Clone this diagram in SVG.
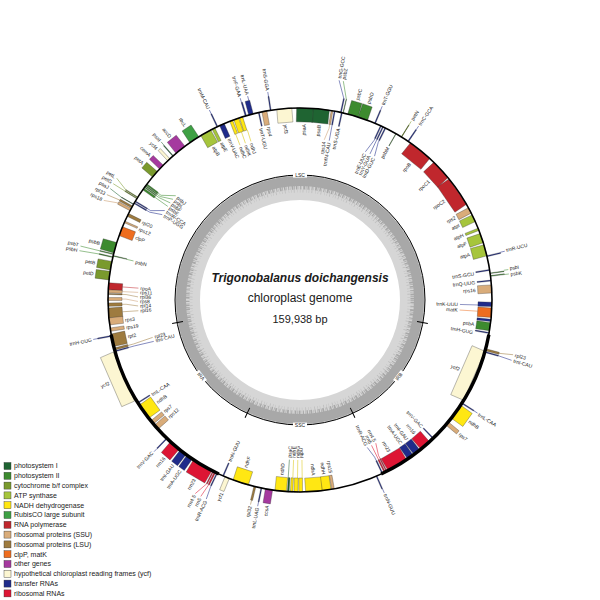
<svg xmlns="http://www.w3.org/2000/svg" width="600" height="600" viewBox="0 0 600 600">
<style>
text{font-family:"Liberation Sans",Arial,Helvetica,sans-serif;fill:#1a1a1a}
.g text{font-size:5px}
.g rect{stroke:#2a2a2a;stroke-width:.3}
#leaders path{fill:none;stroke-width:.5}
.ro,.li{text-anchor:start}
.ri,.lo{text-anchor:end}
.ps1{fill:#1f6432;stroke:#1f6432}
.ps2{fill:#3d8b2f;stroke:#3d8b2f}
.cyt{fill:#7a9a2d;stroke:#7a9a2d}
.atp{fill:#a6c53c;stroke:#a6c53c}
.ndh{fill:#ffe713;stroke:#d8c200}
.rbc{fill:#3ea044;stroke:#3ea044}
.rpo{fill:#c0272d;stroke:#c0272d}
.rps{fill:#d9ac7a;stroke:#c8996a}
.rpl{fill:#9e7b3f;stroke:#9e7b3f}
.clp{fill:#ee6d1f;stroke:#ee6d1f}
.oth{fill:#a5399f;stroke:#a5399f}
.ycf{fill:#fcf6d2;stroke:#8a8460}
.trna{fill:#1f2b8a;stroke:#1f2b8a}
.rrna{fill:#dd1534;stroke:#dd1534}
.lg rect{stroke:#333;stroke-width:.4}
.lg text{font-size:7px}
.reg text{font-size:5px;text-anchor:middle}
</style>

<g id="gc">
<circle cx="300" cy="300" r="112.5" fill="none" stroke="#d6d6d6" stroke-width="25"/>
<circle cx="300" cy="300" r="119" fill="none" stroke="#a8a8a8" stroke-width="10"/>
<circle cx="300" cy="300" r="112.5" fill="none" stroke="#a8a8a8" stroke-width="4" stroke-dasharray="0.7 1.1 1.4 0.6 0.5 1.6 1 0.8 0.4 1.3 1.8 0.7"/>
<circle cx="300" cy="300" r="109" fill="none" stroke="#bdbdbd" stroke-width="3" stroke-dasharray="0.5 2.3 0.8 3.1 0.4 1.9"/>
<circle cx="300" cy="300" r="125" fill="none" stroke="#000" stroke-width="1"/>
</g>
<g id="ticks" stroke="#000" stroke-width="1">
<line transform="rotate(100.4 300 300)" x1="300" y1="170" x2="300" y2="181"/>
<line transform="rotate(155 300 300)" x1="300" y1="170" x2="300" y2="181"/>
<line transform="rotate(205 300 300)" x1="300" y1="170" x2="300" y2="181"/>
<line transform="rotate(259.6 300 300)" x1="300" y1="170" x2="300" y2="181"/>
</g>
<g id="regions" class="reg">
<rect x="293" y="172.6" width="14" height="5" fill="#fff"/><text x="300" y="176.8">LSC</text>
<g transform="rotate(-52.3 300 300)"><rect x="293.5" y="422.6" width="13" height="5" fill="#fff"/><text x="300" y="426.8">IRB</text></g>
<rect x="293" y="422.6" width="14" height="5" fill="#fff"/><text x="300" y="426.8">SSC</text>
<g transform="rotate(52.3 300 300)"><rect x="293.5" y="422.6" width="13" height="5" fill="#fff"/><text x="300" y="426.8">IRA</text></g>
</g>

<g id="title" text-anchor="middle">
<text x="300" y="282" font-size="12" font-weight="bold" font-style="italic">Trigonobalanus doichangensis</text>
<text x="300" y="302" font-size="12">chloroplast genome</text>
<text x="300" y="322.5" font-size="11">159,938 bp</text>
</g>

<g id="leaders">
<path class="trna" transform="rotate(91.6 300 300)" d="M300,122V140"/>
<path class="clp" transform="rotate(93.6 300 300)" d="M300,122V140"/>
<path class="ps2" transform="rotate(82.9 300 300)" d="M300,94V89.5"/>
<path class="ps2" transform="rotate(81.7 300 300)" d="M300,94V89.5"/>
<path class="trna" transform="rotate(76.6 300 300)" d="M300,94V89.5"/>
<path class="trna" transform="rotate(34.3 300 300)" d="M300,94V89.5"/>
<path class="cyt" transform="rotate(31.9 300 300)" d="M300,108V89.5"/>
<path class="trna" transform="rotate(26.4 300 300)" d="M300,122V124L302.8,138"/>
<path class="trna" transform="rotate(25.6 300 300)" d="M300,122V138"/>
<path class="trna" transform="rotate(24.9 300 300)" d="M300,122V124L296.9,138"/>
<path class="trna" transform="rotate(23 300 300)" d="M300,94V89.5"/>
<path class="ps2" transform="rotate(13 300 300)" d="M300,94L293,77"/>
<path class="trna" transform="rotate(12.3 300 300)" d="M300,94L291.4,77"/>
<path class="trna" transform="rotate(10.4 300 300)" d="M300,122V138"/>
<path class="rps" transform="rotate(9.6 300 300)" d="M300,122V126L297.2,138"/>
<path class="trna" transform="rotate(351.2 300 300)" d="M300,94V89.5"/>
<path class="trna" transform="rotate(345.6 300 300)" d="M300,94V89.5"/>
<path class="trna" transform="rotate(343.5 300 300)" d="M300,94V89.5"/>
<path class="ndh" transform="rotate(342.8 300 300)" d="M300,122V134"/>
<path class="ndh" transform="rotate(340.8 300 300)" d="M300,122V134"/>
<path class="ndh" transform="rotate(338.8 300 300)" d="M300,122V134"/>
<path class="trna" transform="rotate(334.5 300 300)" d="M300,94V89.5"/>
<path class="ps1" transform="rotate(318.7 300 300)" d="M300,94V89.5"/>
<path class="ps2" transform="rotate(307 300 300)" d="M300,122V126L308.5,138"/>
<path class="ps2" transform="rotate(306.5 300 300)" d="M300,122V126L305.4,138"/>
<path class="ps2" transform="rotate(306 300 300)" d="M300,122V126L302.3,138"/>
<path class="ps2" transform="rotate(305.3 300 300)" d="M300,122V138"/>
<path class="cyt" transform="rotate(302.3 300 300)" d="M300,94L305,80"/>
<path class="cyt" transform="rotate(301.9 300 300)" d="M300,94V80"/>
<path class="trna" transform="rotate(300.9 300 300)" d="M300,122V126L307.3,138"/>
<path class="trna" transform="rotate(300.3 300 300)" d="M300,122V126L304.2,138"/>
<path class="ps1" transform="rotate(299.9 300 300)" d="M300,94L302,80"/>
<path class="rpl" transform="rotate(299 300 300)" d="M300,94L298.5,80"/>
<path class="rps" transform="rotate(298.1 300 300)" d="M300,94L295.4,80"/>
<path class="ps2" transform="rotate(283.8 300 300)" d="M300,94V74"/>
<path class="ps2" transform="rotate(283.2 300 300)" d="M300,122V129"/>
<path class="ps2" transform="rotate(282.9 300 300)" d="M300,94L298.8,74"/>
<path class="rpo" transform="rotate(274.2 300 300)" d="M300,122V138"/>
<path class="rps" transform="rotate(272.7 300 300)" d="M300,122V138"/>
<path class="rpl" transform="rotate(271.8 300 300)" d="M300,122V126L298,138"/>
<path class="rps" transform="rotate(270.3 300 300)" d="M300,122V126L297.7,138"/>
<path class="rpl" transform="rotate(268.6 300 300)" d="M300,122V126L298,138"/>
<path class="rpl" transform="rotate(266.2 300 300)" d="M300,122V138"/>
<path class="trna" transform="rotate(259.2 300 300)" d="M300,94V89.5"/>
<path class="rpl" transform="rotate(255.2 300 300)" d="M300,122V128L301.5,148"/>
<path class="trna" transform="rotate(254.5 300 300)" d="M300,122V128L299.2,148"/>
<path class="trna" transform="rotate(223.9 300 300)" d="M300,94V89.5"/>
<path class="rrna" transform="rotate(206.9 300 300)" d="M300,94L305.8,80"/>
<path class="rrna" transform="rotate(206.3 300 300)" d="M300,94L301.9,80"/>
<path class="trna" transform="rotate(205.6 300 300)" d="M300,94L298.5,80"/>
<path class="rpl" transform="rotate(193.6 300 300)" d="M300,94V89.5"/>
<path class="trna" transform="rotate(191.6 300 300)" d="M300,94V89.5"/>
<path class="ps1" transform="rotate(183.8 300 300)" d="M300,122V140"/>
<path class="ndh" transform="rotate(182.3 300 300)" d="M300,122V140"/>
<path class="ndh" transform="rotate(180.8 300 300)" d="M300,122V140"/>
<path class="ndh" transform="rotate(179.3 300 300)" d="M300,122V140"/>
<path class="trna" transform="rotate(156.4 300 300)" d="M300,94V89.5"/>
<path class="trna" transform="rotate(154.6 300 300)" d="M300,122V126L302.5,138"/>
<path class="rrna" transform="rotate(153.8 300 300)" d="M300,122V138"/>
<path class="rrna" transform="rotate(153.2 300 300)" d="M300,122V126L296.9,138"/>
<path class="trna" transform="rotate(122.5 300 300)" d="M300,94V89.5"/>
<path class="rpl" transform="rotate(105 300 300)" d="M300,94L297.7,80"/>
<path class="trna" transform="rotate(105.7 300 300)" d="M300,94L300.8,80"/>
</g>

<g id="genes">
<g id="trnH-GUG" class="g"><rect class="trna" transform="rotate(99.9 300 300)" x="299.5" y="108" width="1" height="14"/><text class="ri" transform="rotate(100.6 300 300) translate(300 124) rotate(-90)" dy="1.8">trnH-GUG</text></g>
<g id="psbA" class="g"><rect class="ps2" transform="rotate(98 300 300)" x="295.98" y="108" width="8.04" height="14"/><text class="ri" transform="rotate(97.9 300 300) translate(300 124) rotate(-90)" dy="1.8">psbA</text></g>
<g id="trnK-UUU" class="g"><rect class="trna" transform="rotate(96.1 300 300)" x="298.83" y="108" width="2.35" height="14"/><rect class="trna" transform="rotate(91.3 300 300)" x="297.82" y="108" width="4.36" height="14"/><text class="ri" transform="rotate(91.6 300 300) translate(300 142) rotate(-90)" dy="1.8">trnK-UUU</text></g>
<g id="matK" class="g"><rect class="clp" transform="rotate(93.8 300 300)" x="295.31" y="108" width="9.38" height="14"/><text class="ri" transform="rotate(93.6 300 300) translate(300 142) rotate(-90)" dy="1.8">matK</text></g>
<g id="rps16" class="g"><rect class="rps" transform="rotate(86.7 300 300)" x="295.98" y="108" width="8.04" height="14"/><text class="ri" transform="rotate(86.8 300 300) translate(300 124) rotate(-90)" dy="1.8">rps16</text></g>
<g id="trnQ-UUG" class="g"><rect class="trna" transform="rotate(84.2 300 300)" x="299.5" y="108" width="1" height="14"/><text class="ri" transform="rotate(84.3 300 300) translate(300 124) rotate(-90)" dy="1.8">trnQ-UUG</text></g>
<g id="psbK" class="g"><rect class="ps2" transform="rotate(82.8 300 300)" x="299.58" y="94" width="0.84" height="14"/><text class="ro" transform="rotate(83 300 300) translate(300 88) rotate(-90)" dy="1.8">psbK</text></g>
<g id="psbI" class="g"><rect class="ps2" transform="rotate(82 300 300)" x="299.67" y="94" width="0.67" height="14"/><text class="ro" transform="rotate(81.4 300 300) translate(300 88) rotate(-90)" dy="1.8">psbI</text></g>
<g id="trnS-GCU" class="g"><rect class="trna" transform="rotate(81 300 300)" x="299.5" y="108" width="1" height="14"/><text class="ri" transform="rotate(81.4 300 300) translate(300 124) rotate(-90)" dy="1.8">trnS-GCU</text></g>
<g id="trnR-UCU" class="g"><rect class="trna" transform="rotate(76.8 300 300)" x="299.5" y="94" width="1" height="14"/><text class="ro" transform="rotate(76.4 300 300) translate(300 88) rotate(-90)" dy="1.8">trnR-UCU</text></g>
<g id="atpA" class="g"><rect class="atp" transform="rotate(75 300 300)" x="294.31" y="108" width="11.39" height="14"/><text class="ri" transform="rotate(75 300 300) translate(300 124) rotate(-90)" dy="1.8">atpA</text></g>
<g id="atpF" class="g"><rect class="atp" transform="rotate(71.2 300 300)" x="295.14" y="108" width="9.72" height="14"/><text class="ri" transform="rotate(71.2 300 300) translate(300 124) rotate(-90)" dy="1.8">atpF</text></g>
<g id="atpH" class="g"><rect class="atp" transform="rotate(68.4 300 300)" x="298.83" y="108" width="2.35" height="14"/><text class="ri" transform="rotate(68.3 300 300) translate(300 124) rotate(-90)" dy="1.8">atpH</text></g>
<g id="atpI" class="g"><rect class="atp" transform="rotate(64.8 300 300)" x="296.32" y="108" width="7.37" height="14"/><text class="ri" transform="rotate(64.8 300 300) translate(300 124) rotate(-90)" dy="1.8">atpI</text></g>
<g id="rps2" class="g"><rect class="rps" transform="rotate(62.2 300 300)" x="296.99" y="108" width="6.03" height="14"/><text class="ri" transform="rotate(62 300 300) translate(300 124) rotate(-90)" dy="1.8">rps2</text></g>
<g id="rpoC2" class="g"><rect class="rpo" transform="rotate(55.5 300 300)" x="284.6" y="108.6" width="30.8" height="14"/><text class="ri" transform="rotate(55.5 300 300) translate(300 124.5) rotate(-90)" dy="1.8">rpoC2</text></g>
<g id="rpoC1" class="g"><rect class="rpo" transform="rotate(47.3 300 300)" x="289.62" y="108.3" width="20.77" height="14"/><text class="ri" transform="rotate(47.3 300 300) translate(300 124.3) rotate(-90)" dy="1.8">rpoC1</text></g>
<g id="rpoB" class="g"><rect class="rpo" transform="rotate(38.8 300 300)" x="287.61" y="108.4" width="24.78" height="14"/><text class="ri" transform="rotate(38.8 300 300) translate(300 124.4) rotate(-90)" dy="1.8">rpoB</text></g>
<g id="trnC-GCA" class="g"><rect class="trna" transform="rotate(34.3 300 300)" x="299.5" y="94" width="1" height="14"/><text class="ro" transform="rotate(34.3 300 300) translate(300 88) rotate(-90)" dy="1.8">trnC-GCA</text></g>
<g id="petN" class="g"><rect class="cyt" transform="rotate(31.9 300 300)" x="299.75" y="94" width="0.5" height="14"/><text class="ro" transform="rotate(31.9 300 300) translate(300 88) rotate(-90)" dy="1.8">petN</text></g>
<g id="psbM" class="g"><rect class="ps2" transform="rotate(30 300 300)" x="299.75" y="108" width="0.5" height="14"/><text class="ri" transform="rotate(30 300 300) translate(300 124) rotate(-90)" dy="1.8">psbM</text></g>
<g id="trnD-GUC" class="g"><rect class="trna" transform="rotate(26.4 300 300)" x="299.5" y="108" width="1" height="14"/><text class="ri" transform="rotate(27.4 300 300) translate(300 140) rotate(-90)" dy="1.8">trnD-GUC</text></g>
<g id="trnY-GUA" class="g"><rect class="trna" transform="rotate(25.6 300 300)" x="299.5" y="108" width="1" height="14"/><text class="ri" transform="rotate(25.6 300 300) translate(300 140) rotate(-90)" dy="1.8">trnY-GUA</text></g>
<g id="trnE-UUC" class="g"><rect class="trna" transform="rotate(24.9 300 300)" x="299.5" y="108" width="1" height="14"/><text class="ri" transform="rotate(23.8 300 300) translate(300 140) rotate(-90)" dy="1.8">trnE-UUC</text></g>
<g id="trnT-GGU" class="g"><rect class="trna" transform="rotate(23 300 300)" x="299.5" y="94" width="1" height="14"/><text class="ro" transform="rotate(23 300 300) translate(300 88) rotate(-90)" dy="1.8">trnT-GGU</text></g>
<g id="psbD" class="g"><rect class="ps2" transform="rotate(19.1 300 300)" x="294.98" y="94" width="10.05" height="14"/><text class="ro" transform="rotate(19.2 300 300) translate(300 92) rotate(-90)" dy="1.8">psbD</text></g>
<g id="psbC" class="g"><rect class="ps2" transform="rotate(16 300 300)" x="294.64" y="94" width="10.72" height="14"/><text class="ro" transform="rotate(16 300 300) translate(300 92) rotate(-90)" dy="1.8">psbC</text></g>
<g id="psbZ" class="g"><rect class="ps2" transform="rotate(13 300 300)" x="299.75" y="94" width="0.5" height="14"/><text class="ro" transform="rotate(11.2 300 300) translate(300 75) rotate(-90)" dy="1.8">psbZ</text></g>
<g id="trnG-GCC" class="g"><rect class="trna" transform="rotate(12.3 300 300)" x="299.5" y="94" width="1" height="14"/><text class="ro" transform="rotate(10.1 300 300) translate(300 75) rotate(-90)" dy="1.8">trnG-GCC</text></g>
<g id="trnS-UGA" class="g"><rect class="trna" transform="rotate(12.6 300 300)" x="299.5" y="108" width="1" height="14"/><text class="ri" transform="rotate(12.6 300 300) translate(300 124) rotate(-90)" dy="1.8">trnS-UGA</text></g>
<g id="trnfM-CAU" class="g"><rect class="trna" transform="rotate(10.4 300 300)" x="299.5" y="108" width="1" height="14"/><text class="ri" transform="rotate(10.4 300 300) translate(300 140) rotate(-90)" dy="1.8">trnfM-CAU</text></g>
<g id="rps14" class="g"><rect class="rps" transform="rotate(9.6 300 300)" x="299.16" y="108" width="1.68" height="14"/><text class="ri" transform="rotate(8.6 300 300) translate(300 140) rotate(-90)" dy="1.8">rps14</text></g>
<g id="psaB" class="g"><rect class="ps1" transform="rotate(6.35 300 300)" x="291.79" y="108" width="16.42" height="14"/><text class="ri" transform="rotate(6.2 300 300) translate(300 124) rotate(-90)" dy="1.8">psaB</text></g>
<g id="psaA" class="g"><rect class="ps1" transform="rotate(1.45 300 300)" x="291.79" y="108" width="16.42" height="14"/><text class="ri" transform="rotate(1.3 300 300) translate(300 124) rotate(-90)" dy="1.8">psaA</text></g>
<g id="ycf3" class="g"><rect class="ycf" transform="rotate(355.3 300 300)" x="292.46" y="108" width="15.08" height="14"/><text class="li" transform="rotate(355.3 300 300) translate(300 124) rotate(90)" dy="1.8">ycf3</text></g>
<g id="trnS-GGA" class="g"><rect class="trna" transform="rotate(351.2 300 300)" x="299.5" y="94" width="1" height="14"/><text class="lo" transform="rotate(351.2 300 300) translate(300 88) rotate(90)" dy="1.8">trnS-GGA</text></g>
<g id="rps4" class="g"><rect class="rps" transform="rotate(349.3 300 300)" x="297.49" y="108" width="5.03" height="14"/><text class="li" transform="rotate(349.8 300 300) translate(300 124) rotate(90)" dy="1.8">rps4</text></g>
<g id="trnT-UGU" class="g"><rect class="trna" transform="rotate(347.6 300 300)" x="299.5" y="108" width="1" height="14"/><text class="li" transform="rotate(347.2 300 300) translate(300 124) rotate(90)" dy="1.8">trnT-UGU</text></g>
<g id="trnL-UAA" class="g"><rect class="trna" transform="rotate(345.2 300 300)" x="297.66" y="94" width="4.69" height="14"/><text class="lo" transform="rotate(345.6 300 300) translate(300 88) rotate(90)" dy="1.8">trnL-UAA</text></g>
<g id="trnF-GAA" class="g"><rect class="trna" transform="rotate(343.6 300 300)" x="299.33" y="94" width="1.34" height="14"/><text class="lo" transform="rotate(343.5 300 300) translate(300 88) rotate(90)" dy="1.8">trnF-GAA</text></g>
<g id="ndhJ" class="g"><rect class="ndh" transform="rotate(342.1 300 300)" x="298.33" y="108" width="3.35" height="14"/><text class="li" transform="rotate(342.8 300 300) translate(300 136) rotate(90)" dy="1.8">ndhJ</text></g>
<g id="ndhK" class="g"><rect class="ndh" transform="rotate(340.6 300 300)" x="297.49" y="108" width="5.03" height="14"/><text class="li" transform="rotate(340.8 300 300) translate(300 136) rotate(90)" dy="1.8">ndhK</text></g>
<g id="ndhC" class="g"><rect class="ndh" transform="rotate(339 300 300)" x="298.49" y="108" width="3.02" height="14"/><text class="li" transform="rotate(338.8 300 300) translate(300 136) rotate(90)" dy="1.8">ndhC</text></g>
<g id="trnV-UAC" class="g"><rect class="trna" transform="rotate(336 300 300)" x="297.49" y="108" width="5.03" height="14"/><text class="li" transform="rotate(336.3 300 300) translate(300 124) rotate(90)" dy="1.8">trnV-UAC</text></g>
<g id="trnM-CAU" class="g"><rect class="trna" transform="rotate(334.5 300 300)" x="299.5" y="94" width="1" height="14"/><text class="lo" transform="rotate(334.5 300 300) translate(300 88) rotate(90)" dy="1.8">trnM-CAU</text></g>
<g id="atpE" class="g"><rect class="atp" transform="rotate(333.2 300 300)" x="298.49" y="108" width="3.02" height="14"/><text class="li" transform="rotate(333.6 300 300) translate(300 124) rotate(90)" dy="1.8">atpE</text></g>
<g id="atpB" class="g"><rect class="atp" transform="rotate(330.6 300 300)" x="294.31" y="108" width="11.39" height="14"/><text class="li" transform="rotate(330.6 300 300) translate(300 124) rotate(90)" dy="1.8">atpB</text></g>
<g id="rbcL" class="g"><rect class="rbc" transform="rotate(326.6 300 300)" x="294.64" y="94" width="10.72" height="14"/><text class="lo" transform="rotate(326.6 300 300) translate(300 92) rotate(90)" dy="1.8">rbcL</text></g>
<g id="accD" class="g"><rect class="oth" transform="rotate(321.5 300 300)" x="294.31" y="94" width="11.39" height="14"/><text class="lo" transform="rotate(321.5 300 300) translate(300 92) rotate(90)" dy="1.8">accD</text></g>
<g id="psaI" class="g"><rect class="ps1" transform="rotate(318.6 300 300)" x="299.58" y="94" width="0.84" height="14"/><text class="lo" transform="rotate(318.7 300 300) translate(300 88) rotate(90)" dy="1.8">psaI</text></g>
<g id="ycf4" class="g"><rect class="ycf" transform="rotate(316.9 300 300)" x="298.49" y="94" width="3.02" height="14"/><text class="lo" transform="rotate(316.5 300 300) translate(300 92) rotate(90)" dy="1.8">ycf4</text></g>
<g id="cemA" class="g"><rect class="oth" transform="rotate(313.8 300 300)" x="297.32" y="94" width="5.36" height="14"/><text class="lo" transform="rotate(313.9 300 300) translate(300 92) rotate(90)" dy="1.8">cemA</text></g>
<g id="petA" class="g"><rect class="cyt" transform="rotate(310.9 300 300)" x="296.32" y="94" width="7.37" height="14"/><text class="lo" transform="rotate(311 300 300) translate(300 92) rotate(90)" dy="1.8">petA</text></g>
<g id="psbJ" class="g"><rect class="ps2" transform="rotate(307 300 300)" x="299.33" y="108" width="1.34" height="14"/><text class="li" transform="rotate(310 300 300) translate(300 140) rotate(90)" dy="1.8">psbJ</text></g>
<g id="psbL" class="g"><rect class="ps2" transform="rotate(306.5 300 300)" x="299.5" y="108" width="1" height="14"/><text class="li" transform="rotate(308.4 300 300) translate(300 140) rotate(90)" dy="1.8">psbL</text></g>
<g id="psbF" class="g"><rect class="ps2" transform="rotate(306 300 300)" x="299.5" y="108" width="1" height="14"/><text class="li" transform="rotate(306.8 300 300) translate(300 140) rotate(90)" dy="1.8">psbF</text></g>
<g id="psbE" class="g"><rect class="ps2" transform="rotate(305.3 300 300)" x="299" y="108" width="2" height="14"/><text class="li" transform="rotate(305.2 300 300) translate(300 140) rotate(90)" dy="1.8">psbE</text></g>
<g id="petL" class="g"><rect class="cyt" transform="rotate(302.3 300 300)" x="299.67" y="94" width="0.67" height="14"/><text class="lo" transform="rotate(303.6 300 300) translate(300 78) rotate(90)" dy="1.8">petL</text></g>
<g id="petG" class="g"><rect class="cyt" transform="rotate(301.9 300 300)" x="299.67" y="94" width="0.67" height="14"/><text class="lo" transform="rotate(302 300 300) translate(300 78) rotate(90)" dy="1.8">petG</text></g>
<g id="trnW-CCA" class="g"><rect class="trna" transform="rotate(300.9 300 300)" x="299.5" y="108" width="1" height="14"/><text class="li" transform="rotate(303.5 300 300) translate(300 140) rotate(90)" dy="1.8">trnW-CCA</text></g>
<g id="trnP-UGG" class="g"><rect class="trna" transform="rotate(300.3 300 300)" x="299.5" y="108" width="1" height="14"/><text class="li" transform="rotate(301.8 300 300) translate(300 140) rotate(90)" dy="1.8">trnP-UGG</text></g>
<g id="psaJ" class="g"><rect class="ps1" transform="rotate(299.9 300 300)" x="299.75" y="94" width="0.5" height="14"/><text class="lo" transform="rotate(300.4 300 300) translate(300 78) rotate(90)" dy="1.8">psaJ</text></g>
<g id="rpl33" class="g"><rect class="rpl" transform="rotate(299 300 300)" x="299" y="94" width="2" height="14"/><text class="lo" transform="rotate(298.6 300 300) translate(300 78) rotate(90)" dy="1.8">rpl33</text></g>
<g id="rps18" class="g"><rect class="rps" transform="rotate(298.1 300 300)" x="298.66" y="94" width="2.68" height="14"/><text class="lo" transform="rotate(296.9 300 300) translate(300 78) rotate(90)" dy="1.8">rps18</text></g>
<g id="rpl20" class="g"><rect class="rpl" transform="rotate(296.3 300 300)" x="298.49" y="108" width="3.02" height="14"/><text class="li" transform="rotate(296.3 300 300) translate(300 124) rotate(90)" dy="1.8">rpl20</text></g>
<g id="rps12" class="g"><rect class="rps" transform="rotate(294 300 300)" x="299.16" y="108" width="1.68" height="14"/><text class="li" transform="rotate(293.8 300 300) translate(300 124) rotate(90)" dy="1.8">rps12</text></g>
<g id="clpP" class="g"><rect class="clp" transform="rotate(291 300 300)" x="295.31" y="108" width="9.38" height="14"/><text class="li" transform="rotate(290.9 300 300) translate(300 124) rotate(90)" dy="1.8">clpP</text></g>
<g id="psbB" class="g"><rect class="ps2" transform="rotate(285.8 300 300)" x="294.64" y="94" width="10.72" height="14"/><text class="lo" transform="rotate(285.8 300 300) translate(300 92) rotate(90)" dy="1.8">psbB</text></g>
<g id="psbT" class="g"><rect class="ps2" transform="rotate(283.8 300 300)" x="299.58" y="94" width="0.84" height="14"/><text class="lo" transform="rotate(284 300 300) translate(300 72) rotate(90)" dy="1.8">psbT</text></g>
<g id="psbN" class="g"><rect class="ps2" transform="rotate(283.3 300 300)" x="299.67" y="108" width="0.67" height="14"/><text class="li" transform="rotate(283 300 300) translate(300 131) rotate(90)" dy="1.8">psbN</text></g>
<g id="psbH" class="g"><rect class="ps2" transform="rotate(282.9 300 300)" x="299.58" y="94" width="0.84" height="14"/><text class="lo" transform="rotate(282.6 300 300) translate(300 72) rotate(90)" dy="1.8">psbH</text></g>
<g id="petB" class="g"><rect class="cyt" transform="rotate(280.3 300 300)" x="295.65" y="94" width="8.71" height="14"/><text class="lo" transform="rotate(280.3 300 300) translate(300 92) rotate(90)" dy="1.8">petB</text></g>
<g id="petD" class="g"><rect class="cyt" transform="rotate(277.3 300 300)" x="295.65" y="94" width="8.71" height="14"/><text class="lo" transform="rotate(277.3 300 300) translate(300 92) rotate(90)" dy="1.8">petD</text></g>
<g id="rpoA" class="g"><rect class="rpo" transform="rotate(274.1 300 300)" x="296.48" y="108" width="7.04" height="14"/><text class="li" transform="rotate(274.2 300 300) translate(300 140) rotate(90)" dy="1.8">rpoA</text></g>
<g id="rps11" class="g"><rect class="rps" transform="rotate(272.6 300 300)" x="298.49" y="108" width="3.02" height="14"/><text class="li" transform="rotate(272.7 300 300) translate(300 140) rotate(90)" dy="1.8">rps11</text></g>
<g id="rpl36" class="g"><rect class="rpl" transform="rotate(271.8 300 300)" x="299.5" y="108" width="1" height="14"/><text class="li" transform="rotate(271.1 300 300) translate(300 140) rotate(90)" dy="1.8">rpl36</text></g>
<g id="rps8" class="g"><rect class="rps" transform="rotate(270.3 300 300)" x="298.49" y="108" width="3.02" height="14"/><text class="li" transform="rotate(269.5 300 300) translate(300 140) rotate(90)" dy="1.8">rps8</text></g>
<g id="rpl14" class="g"><rect class="rpl" transform="rotate(268.6 300 300)" x="298.33" y="108" width="3.35" height="14"/><text class="li" transform="rotate(267.9 300 300) translate(300 140) rotate(90)" dy="1.8">rpl14</text></g>
<g id="rpl16" class="g"><rect class="rpl" transform="rotate(266.1 300 300)" x="294.98" y="108" width="10.05" height="14"/><text class="li" transform="rotate(266.2 300 300) translate(300 140) rotate(90)" dy="1.8">rpl16</text></g>
<g id="rps3" class="g"><rect class="rps" transform="rotate(263.6 300 300)" x="296.48" y="108" width="7.04" height="14"/><text class="li" transform="rotate(263.5 300 300) translate(300 124) rotate(90)" dy="1.8">rps3</text></g>
<g id="rps19" class="g"><rect class="rps" transform="rotate(261.1 300 300)" x="298.33" y="108" width="3.35" height="14"/><text class="li" transform="rotate(261 300 300) translate(300 124) rotate(90)" dy="1.8">rps19</text></g>
<g id="rpl2" class="g"><rect class="rpl" transform="rotate(257.9 300 300)" x="293.64" y="108" width="12.73" height="14"/><text class="li" transform="rotate(258 300 300) translate(300 124) rotate(90)" dy="1.8">rpl2</text></g>
<g id="trnH-GUG-2" class="g"><rect class="trna" transform="rotate(259.2 300 300)" x="299.5" y="94" width="1" height="14"/><text class="lo" transform="rotate(259.2 300 300) translate(300 88) rotate(90)" dy="1.8">trnH-GUG</text></g>
<g id="rpl23" class="g"><rect class="rpl" transform="rotate(255.2 300 300)" x="299" y="108" width="2" height="14"/><text class="li" transform="rotate(255.8 300 300) translate(300 150) rotate(90)" dy="1.8">rpl23</text></g>
<g id="trnI-CAU" class="g"><rect class="trna" transform="rotate(254.5 300 300)" x="299.5" y="108" width="1" height="14"/><text class="li" transform="rotate(254.2 300 300) translate(300 150) rotate(90)" dy="1.8">trnI-CAU</text></g>
<g id="ycf2" class="g"><rect class="ycf" transform="rotate(246.5 300 300)" x="273.28" y="94" width="53.44" height="14"/><text class="lo" transform="rotate(246.5 300 300) translate(300 92) rotate(90)" dy="1.8">ycf2</text></g>
<g id="trnL-CAA" class="g"><rect class="trna" transform="rotate(237.6 300 300)" x="299.5" y="108" width="1" height="14"/><text class="li" transform="rotate(237.4 300 300) translate(300 124) rotate(90)" dy="1.8">trnL-CAA</text></g>
<g id="ndhB" class="g"><rect class="ndh" transform="rotate(234.4 300 300)" x="291.96" y="108" width="16.08" height="14"/><text class="li" transform="rotate(234.4 300 300) translate(300 124) rotate(90)" dy="1.8">ndhB</text></g>
<g id="rps7" class="g"><rect class="rps" transform="rotate(230.4 300 300)" x="297.99" y="108" width="4.02" height="14"/><text class="li" transform="rotate(230.6 300 300) translate(300 124) rotate(90)" dy="1.8">rps7</text></g>
<g id="rps12-3" class="g"><rect class="rps" transform="rotate(228.5 300 300)" x="297.32" y="108" width="5.36" height="14"/><text class="li" transform="rotate(228.2 300 300) translate(300 124) rotate(90)" dy="1.8">rps12</text></g>
<g id="trnV-GAC" class="g"><rect class="trna" transform="rotate(223.9 300 300)" x="299.5" y="94" width="1" height="14"/><text class="lo" transform="rotate(224.1 300 300) translate(300 88) rotate(90)" dy="1.8">trnV-GAC</text></g>
<g id="rrn16" class="g"><rect class="rrna" transform="rotate(220.7 300 300)" x="294.31" y="94" width="11.39" height="14"/><text class="lo" transform="rotate(220.7 300 300) translate(300 92) rotate(90)" dy="1.8">rrn16</text></g>
<g id="trnI-GAU" class="g"><rect class="trna" transform="rotate(217.5 300 300)" x="296.32" y="94" width="7.37" height="14"/><text class="lo" transform="rotate(217.6 300 300) translate(300 92) rotate(90)" dy="1.8">trnI-GAU</text></g>
<g id="trnA-UGC" class="g"><rect class="trna" transform="rotate(215.1 300 300)" x="296.65" y="94" width="6.7" height="14"/><text class="lo" transform="rotate(215.1 300 300) translate(300 92) rotate(90)" dy="1.8">trnA-UGC</text></g>
<g id="rrn23" class="g"><rect class="rrna" transform="rotate(210.5 300 300)" x="289.28" y="94" width="21.44" height="14"/><text class="lo" transform="rotate(210.5 300 300) translate(300 92) rotate(90)" dy="1.8">rrn23</text></g>
<g id="rrn4.5" class="g"><rect class="rrna" transform="rotate(206.9 300 300)" x="299.5" y="94" width="1" height="14"/><text class="lo" transform="rotate(208.4 300 300) translate(300 78) rotate(90)" dy="1.8">rrn4.5</text></g>
<g id="rrn5" class="g"><rect class="rrna" transform="rotate(206.3 300 300)" x="299.33" y="94" width="1.34" height="14"/><text class="lo" transform="rotate(206.8 300 300) translate(300 78) rotate(90)" dy="1.8">rrn5</text></g>
<g id="trnR-ACG" class="g"><rect class="trna" transform="rotate(205.6 300 300)" x="299.5" y="94" width="1" height="14"/><text class="lo" transform="rotate(205.2 300 300) translate(300 78) rotate(90)" dy="1.8">trnR-ACG</text></g>
<g id="trnN-GUU" class="g"><rect class="trna" transform="rotate(203.6 300 300)" x="299.5" y="108" width="1" height="14"/><text class="li" transform="rotate(203.6 300 300) translate(300 124) rotate(90)" dy="1.8">trnN-GUU</text></g>
<g id="ycf1" class="g"><rect class="ycf" transform="rotate(202.3 300 300)" x="297.66" y="94" width="4.69" height="14"/><text class="lo" transform="rotate(202.1 300 300) translate(300 92) rotate(90)" dy="1.8">ycf1</text></g>
<g id="ndhF" class="g"><rect class="ndh" transform="rotate(198 300 300)" x="291.96" y="108" width="16.08" height="14"/><text class="li" transform="rotate(198 300 300) translate(300 124) rotate(90)" dy="1.8">ndhF</text></g>
<g id="rpl32" class="g"><rect class="rpl" transform="rotate(193.6 300 300)" x="299" y="94" width="2" height="14"/><text class="lo" transform="rotate(193.6 300 300) translate(300 88) rotate(90)" dy="1.8">rpl32</text></g>
<g id="trnL-UAG" class="g"><rect class="trna" transform="rotate(191.6 300 300)" x="299.5" y="94" width="1" height="14"/><text class="lo" transform="rotate(191.6 300 300) translate(300 88) rotate(90)" dy="1.8">trnL-UAG</text></g>
<g id="ccsA" class="g"><rect class="oth" transform="rotate(189.3 300 300)" x="296.32" y="94" width="7.37" height="14"/><text class="lo" transform="rotate(189.1 300 300) translate(300 92) rotate(90)" dy="1.8">ccsA</text></g>
<g id="ndhD" class="g"><rect class="ndh" transform="rotate(185.8 300 300)" x="294.31" y="108" width="11.39" height="14"/><text class="li" transform="rotate(186 300 300) translate(300 124) rotate(90)" dy="1.8">ndhD</text></g>
<g id="psaC" class="g"><rect class="ps1" transform="rotate(183.5 300 300)" x="299.16" y="108" width="1.68" height="14"/><text class="li" transform="rotate(183.8 300 300) translate(300 142) rotate(90)" dy="1.8">psaC</text></g>
<g id="ndhE" class="g"><rect class="ndh" transform="rotate(182.5 300 300)" x="298.83" y="108" width="2.35" height="14"/><text class="li" transform="rotate(182.3 300 300) translate(300 142) rotate(90)" dy="1.8">ndhE</text></g>
<g id="ndhG" class="g"><rect class="ndh" transform="rotate(181.2 300 300)" x="297.99" y="108" width="4.02" height="14"/><text class="li" transform="rotate(180.8 300 300) translate(300 142) rotate(90)" dy="1.8">ndhG</text></g>
<g id="ndhI" class="g"><rect class="ndh" transform="rotate(179.8 300 300)" x="298.16" y="108" width="3.69" height="14"/><text class="ri" transform="rotate(179.3 300 300) translate(300 142) rotate(-90)" dy="1.8">ndhI</text></g>
<g id="ndhA" class="g"><rect class="ndh" transform="rotate(175.8 300 300)" x="291.63" y="108" width="16.75" height="14"/><text class="ri" transform="rotate(175.6 300 300) translate(300 124) rotate(-90)" dy="1.8">ndhA</text></g>
<g id="ndhH" class="g"><rect class="ndh" transform="rotate(172 300 300)" x="295.65" y="108" width="8.71" height="14"/><text class="ri" transform="rotate(172.2 300 300) translate(300 124) rotate(-90)" dy="1.8">ndhH</text></g>
<g id="rps15" class="g"><rect class="rps" transform="rotate(170.1 300 300)" x="298.66" y="108" width="2.68" height="14"/><text class="ri" transform="rotate(169.9 300 300) translate(300 124) rotate(-90)" dy="1.8">rps15</text></g>
<g id="trnN-GUU-2" class="g"><rect class="trna" transform="rotate(156.5 300 300)" x="299.5" y="94" width="1" height="14"/><text class="ro" transform="rotate(156.3 300 300) translate(300 88) rotate(-90)" dy="1.8">trnN-GUU</text></g>
<g id="trnR-ACG-2" class="g"><rect class="trna" transform="rotate(154.6 300 300)" x="299.5" y="108" width="1" height="14"/><text class="ri" transform="rotate(155.5 300 300) translate(300 140) rotate(-90)" dy="1.8">trnR-ACG</text></g>
<g id="rrn5-2" class="g"><rect class="rrna" transform="rotate(153.8 300 300)" x="299.33" y="108" width="1.34" height="14"/><text class="ri" transform="rotate(153.8 300 300) translate(300 140) rotate(-90)" dy="1.8">rrn5</text></g>
<g id="rrn4.5-2" class="g"><rect class="rrna" transform="rotate(153.2 300 300)" x="299.5" y="108" width="1" height="14"/><text class="ri" transform="rotate(152.1 300 300) translate(300 140) rotate(-90)" dy="1.8">rrn4.5</text></g>
<g id="rrn23-2" class="g"><rect class="rrna" transform="rotate(149.5 300 300)" x="289.28" y="108" width="21.44" height="14"/><text class="ri" transform="rotate(149.5 300 300) translate(300 124) rotate(-90)" dy="1.8">rrn23</text></g>
<g id="trnA-UGC-2" class="g"><rect class="trna" transform="rotate(144.9 300 300)" x="296.65" y="108" width="6.7" height="14"/><text class="ri" transform="rotate(144.9 300 300) translate(300 124) rotate(-90)" dy="1.8">trnA-UGC</text></g>
<g id="trnI-GAU-2" class="g"><rect class="trna" transform="rotate(142.5 300 300)" x="296.32" y="108" width="7.37" height="14"/><text class="ri" transform="rotate(142.5 300 300) translate(300 124) rotate(-90)" dy="1.8">trnI-GAU</text></g>
<g id="rrn16-2" class="g"><rect class="rrna" transform="rotate(139.3 300 300)" x="294.31" y="108" width="11.39" height="14"/><text class="ri" transform="rotate(139.3 300 300) translate(300 124) rotate(-90)" dy="1.8">rrn16</text></g>
<g id="trnV-GAC-2" class="g"><rect class="trna" transform="rotate(136.1 300 300)" x="299.5" y="108" width="1" height="14"/><text class="ri" transform="rotate(136.1 300 300) translate(300 124) rotate(-90)" dy="1.8">trnV-GAC</text></g>
<g id="rps7-2" class="g"><rect class="rps" transform="rotate(130 300 300)" x="297.99" y="94" width="4.02" height="14"/><text class="ro" transform="rotate(130 300 300) translate(300 92) rotate(-90)" dy="1.8">rps7</text></g>
<g id="ndhB-2" class="g"><rect class="ndh" transform="rotate(125.6 300 300)" x="291.96" y="94" width="16.08" height="14"/><text class="ro" transform="rotate(125.6 300 300) translate(300 92) rotate(-90)" dy="1.8">ndhB</text></g>
<g id="trnL-CAA-2" class="g"><rect class="trna" transform="rotate(122.5 300 300)" x="299.5" y="94" width="1" height="14"/><text class="ro" transform="rotate(122.6 300 300) translate(300 88) rotate(-90)" dy="1.8">trnL-CAA</text></g>
<g id="ycf2-2" class="g"><rect class="ycf" transform="rotate(113.5 300 300)" x="273.28" y="110" width="53.44" height="14"/><text class="ri" transform="rotate(113.5 300 300) translate(300 126) rotate(-90)" dy="1.8">ycf2</text></g>
<g id="rpl23-2" class="g"><rect class="rpl" transform="rotate(105 300 300)" x="299" y="94" width="2" height="14"/><text class="ro" transform="rotate(104.4 300 300) translate(300 78) rotate(-90)" dy="1.8">rpl23</text></g>
<g id="trnI-CAU-2" class="g"><rect class="trna" transform="rotate(105.7 300 300)" x="299.5" y="94" width="1" height="14"/><text class="ro" transform="rotate(105.9 300 300) translate(300 78) rotate(-90)" dy="1.8">trnI-CAU</text></g>
</g>

<g id="genome">
<circle cx="300" cy="300" r="192" fill="none" stroke="#000" stroke-width="1.6"/>
<path d="M488.85,334.66A192,192 0 0 1 381.14,474.01M218.86,474.01A192,192 0 0 1 111.15,334.66" fill="none" stroke="#000" stroke-width="3.4"/>
</g>

<g id="legend" class="lg">
<rect class="ps1" x="4" y="462.5" width="7" height="7"/><text x="14" y="468.4">photosystem I</text>
<rect class="ps2" x="4" y="472.3" width="7" height="7"/><text x="14" y="478.2">photosystem II</text>
<rect class="cyt" x="4" y="482.1" width="7" height="7"/><text x="14" y="488">cytochrome b/f complex</text>
<rect class="atp" x="4" y="491.9" width="7" height="7"/><text x="14" y="497.8">ATP synthase</text>
<rect class="ndh" x="4" y="501.7" width="7" height="7"/><text x="14" y="507.6">NADH dehydrogenase</text>
<rect class="rbc" x="4" y="511.5" width="7" height="7"/><text x="14" y="517.4">RubisCO large subunit</text>
<rect class="rpo" x="4" y="521.3" width="7" height="7"/><text x="14" y="527.2">RNA polymerase</text>
<rect class="rps" x="4" y="531.1" width="7" height="7"/><text x="14" y="537">ribosomal proteins (SSU)</text>
<rect class="rpl" x="4" y="540.9" width="7" height="7"/><text x="14" y="546.8">ribosomal proteins (LSU)</text>
<rect class="clp" x="4" y="550.7" width="7" height="7"/><text x="14" y="556.6">clpP, matK</text>
<rect class="oth" x="4" y="560.5" width="7" height="7"/><text x="14" y="566.4">other genes</text>
<rect class="ycf" x="4" y="570.3" width="7" height="7"/><text x="14" y="576.2">hypothetical chloroplast reading frames (ycf)</text>
<rect class="trna" x="4" y="580.1" width="7" height="7"/><text x="14" y="586">transfer RNAs</text>
<rect class="rrna" x="4" y="589.9" width="7" height="7"/><text x="14" y="595.8">ribosomal RNAs</text>
</g>
</svg>
